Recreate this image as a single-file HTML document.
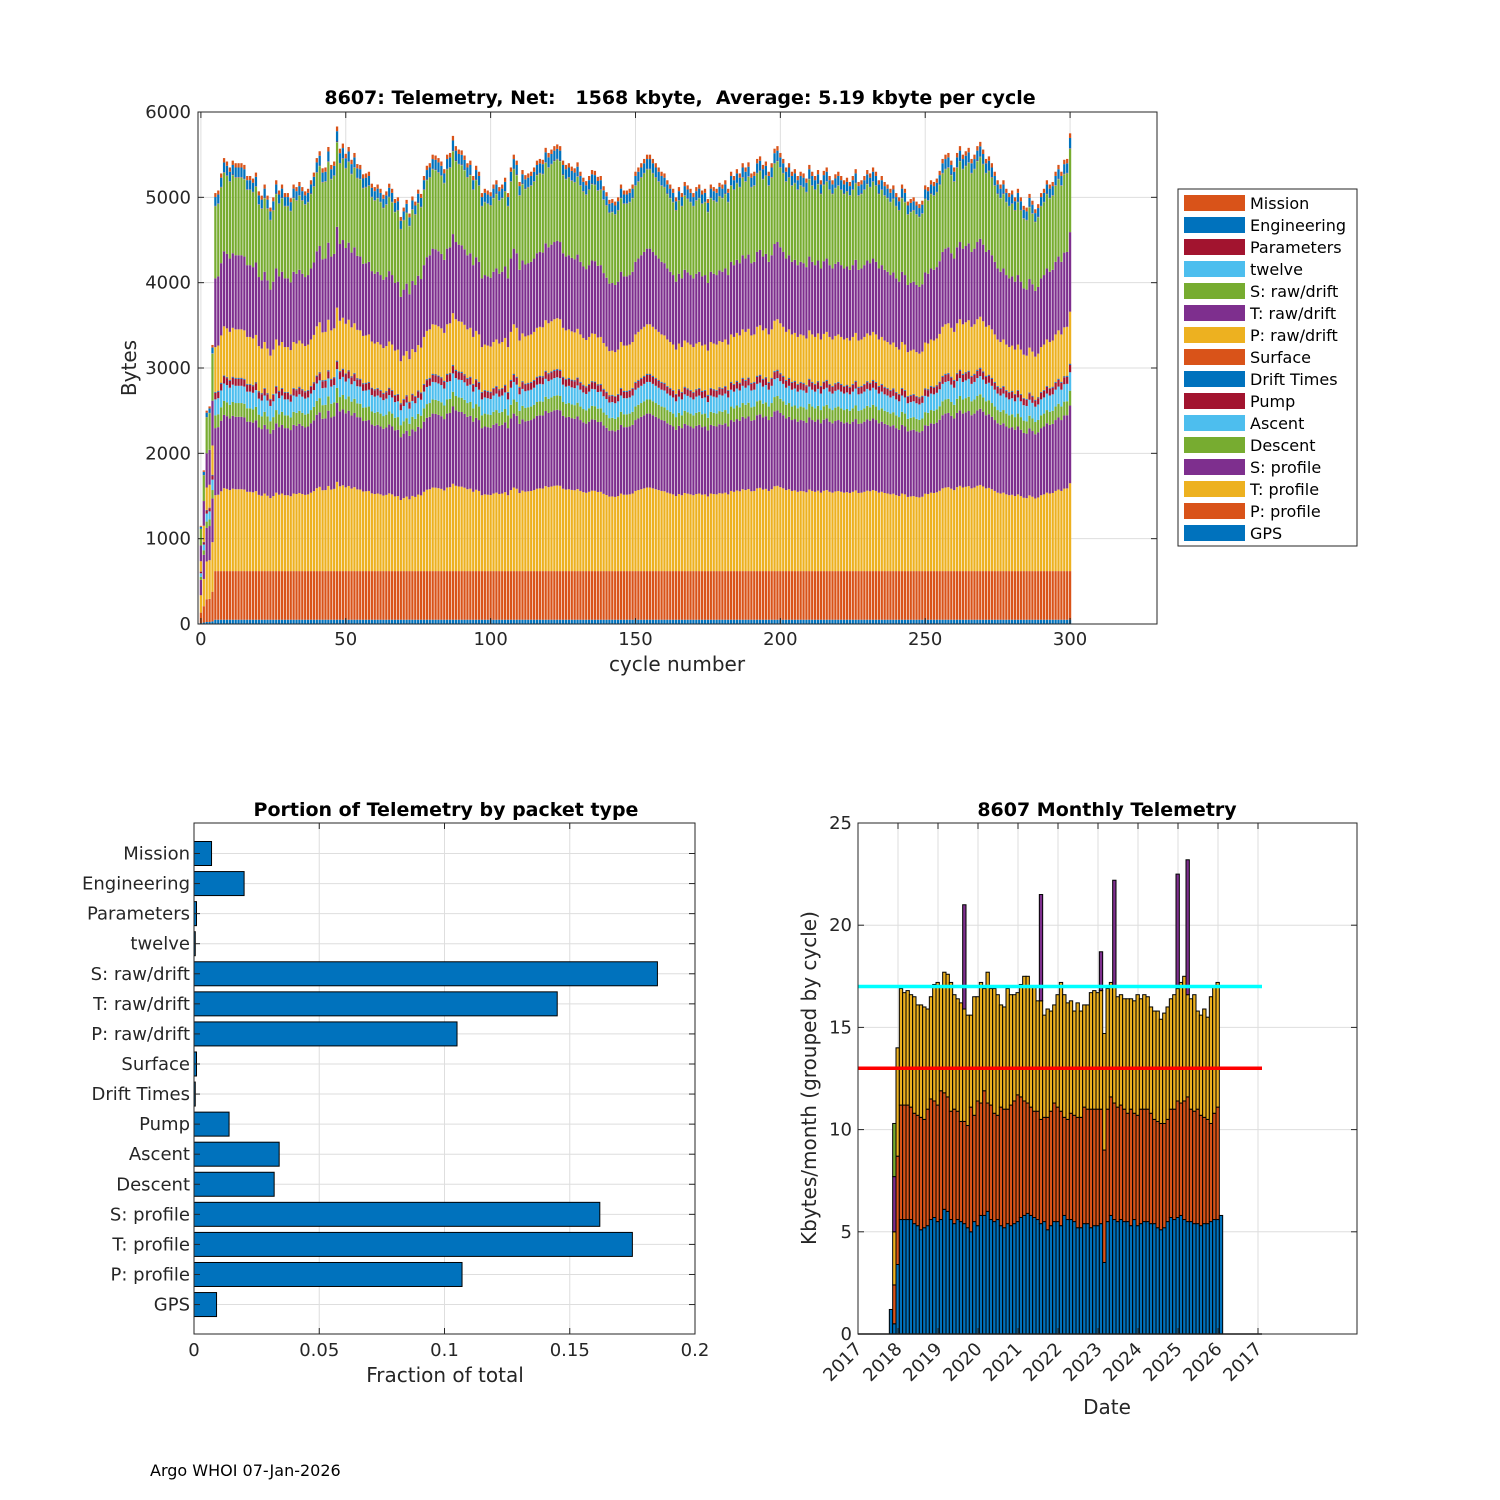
<!DOCTYPE html>
<html><head><meta charset="utf-8">
<style>
html,body{margin:0;padding:0;background:#fff;}
svg{display:block;font-family:"DejaVu Sans","Liberation Sans",sans-serif;}
</style></head>
<body>
<svg id="fig" width="1500" height="1500" viewBox="0 0 1500 1500" xmlns="http://www.w3.org/2000/svg">
<rect width="1500" height="1500" fill="#fff"/>
<g id="top"></g>
<g id="bl"></g>
<g id="br"></g>
<text x="150" y="1476" font-size="16" fill="#000">Argo WHOI 07-Jan-2026</text>
</svg>
<script>
// ---------- Top chart data ----------
const cycleTotals = [
1150,1800,2500,2550,3270,5050,5080,5280,5460,5420,
5350,5430,5400,5400,5400,5380,5250,5250,5220,5290,
5070,5020,5150,5020,4880,5000,5200,5080,5150,5050,
5050,4990,5150,5120,5180,5120,5070,5100,5200,5290,
5460,5540,5340,5350,5590,5380,5420,5830,5570,5630,
5510,5590,5440,5520,5390,5380,5270,5280,5300,5160,
5120,5150,5100,5030,5070,5160,5100,4980,5000,4770,
4880,4970,4810,5010,4950,5090,5040,5250,5370,5400,
5500,5490,5460,5420,5330,5500,5520,5720,5600,5560,
5550,5490,5400,5430,5250,5370,5300,5050,5100,5080,
5060,5150,5200,5120,5150,5230,5050,5350,5500,5430,
5180,5320,5260,5280,5300,5350,5430,5450,5440,5580,
5520,5560,5600,5620,5600,5430,5380,5400,5360,5340,
5410,5300,5230,5190,5250,5320,5310,5240,5250,5130,
5060,4970,4980,4950,5000,5150,5080,5080,5100,5150,
5300,5350,5400,5450,5500,5500,5450,5400,5350,5300,
5280,5200,5150,5100,5000,5120,5050,5180,5140,5100,
5050,5120,5150,5080,5100,4980,5150,5120,5100,5170,
5150,5200,5100,5300,5250,5330,5280,5400,5350,5410,
5280,5300,5450,5480,5380,5420,5300,5400,5570,5600,
5520,5450,5350,5400,5300,5330,5250,5300,5280,5220,
5380,5300,5250,5320,5200,5310,5350,5250,5200,5270,
5300,5250,5200,5230,5180,5250,5330,5180,5200,5250,
5320,5280,5350,5300,5200,5250,5180,5150,5100,5140,
5050,5000,5150,5100,4950,4980,5000,4950,4920,4960,
5140,5120,5200,5180,5220,5310,5450,5500,5520,5430,
5350,5520,5600,5500,5540,5580,5450,5500,5600,5650,
5560,5450,5480,5400,5300,5200,5150,5200,5100,5050,
5080,5000,5100,5000,4900,4880,5040,4960,4860,4920,
5050,5100,5200,5150,5180,5300,5380,5300,5440,5450,
5750];
const packetNames = ["GPS","P: profile","T: profile","S: profile","Descent","Ascent","Pump","Drift Times","Surface","P: raw/drift","T: raw/drift","S: raw/drift","twelve","Parameters","Engineering","Mission"];
const packetBase  = [50,570,950,840,160,200,80,10,5,560,860,900,3,5,110,50];
const packetColors = ["#0072BD","#D95319","#EDB120","#7E2F8E","#77AC30","#4DBEEE","#A2142F","#0072BD","#D95319","#EDB120","#7E2F8E","#77AC30","#4DBEEE","#A2142F","#0072BD","#D95319"];
const topYTicks = [0,1000,2000,3000,4000,5000,6000];
const topXTicks = [0,50,100,150,200,250,300];

// ---------- Bottom-left data ----------
const fracLabels = ["Mission","Engineering","Parameters","twelve","S: raw/drift","T: raw/drift","P: raw/drift","Surface","Drift Times","Pump","Ascent","Descent","S: profile","T: profile","P: profile","GPS"];
const fracValues = [0.007,0.020,0.001,0.0005,0.185,0.145,0.105,0.001,0.0005,0.014,0.034,0.032,0.162,0.175,0.107,0.009];
const fracTicks = [0,0.05,0.1,0.15,0.2];
const fracTickLabels = ["0","0.05","0.1","0.15","0.2"];

// ---------- Bottom-right data (months starting Nov 2017) ----------
const monthBlue = [1.2,0.5,
3.4,5.6,5.6,5.6,5.6,5.4,5.3,5.1,5.2,5.3,5.6,5.7,
5.5,5.6,6.1,6.0,5.6,5.4,5.6,5.5,5.4,5.2,5.0,5.5,
5.3,5.8,5.8,6.0,5.6,5.5,5.6,5.3,5.2,5.4,5.3,5.4,
5.5,5.7,5.8,5.9,5.8,5.7,5.6,5.4,5.5,5.1,5.3,5.5,
5.5,5.3,5.8,5.6,5.6,5.5,5.2,5.2,5.4,5.4,5.2,5.3,
5.3,5.4,3.5,5.5,5.8,5.6,5.5,5.6,5.5,5.5,5.3,5.6,
5.3,5.4,5.5,5.5,5.4,5.4,5.2,5.1,5.2,5.5,5.7,5.6,
5.7,5.8,5.6,5.5,5.5,5.4,5.4,5.3,5.4,5.4,5.5,5.6,
5.6,5.8];
const monthOrange = [0,2.4,
8.7,11.2,11.2,11.2,11.1,10.8,10.7,10.6,10.5,11.0,11.5,11.4,
11.2,11.9,11.8,11.6,10.9,11.0,10.9,10.4,10.4,10.2,11.1,10.7,
11.4,11.3,11.9,11.3,11.2,10.8,10.7,11.1,11.0,11.0,11.2,11.4,
11.7,11.6,11.4,11.3,11.1,10.9,10.9,10.5,10.6,10.6,10.9,11.3,
11.1,10.9,10.6,10.5,10.8,10.7,10.6,10.6,11.1,11.0,11.0,11.0,
11.0,11.0,9.0,11.0,11.6,11.3,11.1,11.2,11.0,10.8,11.0,10.8,
10.7,11.0,11.0,11.0,10.8,10.5,10.4,10.3,10.3,10.5,11.0,11.0,
11.4,11.3,11.4,11.6,11.0,10.9,11.0,10.7,10.6,10.5,10.3,10.8,
11.1,0];
const monthYellow = [0,5.0,
14.0,16.9,16.7,16.8,16.6,16.5,16.1,16.1,16.0,15.9,16.5,17.1,
17.2,17.0,17.7,17.6,17.2,16.6,16.4,16.2,15.9,15.6,15.6,16.5,
16.5,17.2,16.9,17.7,16.9,16.9,16.6,16.1,16.0,16.9,16.6,16.6,
16.7,17.1,17.5,17.5,17.0,17.0,16.3,16.3,15.6,15.9,15.8,16.1,
16.6,17.2,16.6,16.2,16.3,15.8,16.2,15.8,16.1,16.1,16.7,16.8,
16.7,16.8,14.7,16.9,17.2,17.0,16.5,16.6,16.4,16.4,16.4,16.3,
16.6,16.4,16.6,16.5,16.0,15.8,15.8,15.4,15.7,16.0,16.4,16.6,
16.9,17.2,17.5,16.6,16.4,16.6,15.8,15.6,15.9,15.5,16.5,17.0,
17.2,0];
const monthPurple = [0,7.7,
0,0,0,0,0,0,0,0,0,0,0,0,
0,0,0,0,0,0,0,0,21.0,0,0,0,
0,0,0,0,0,0,0,0,0,0,0,0,
0,0,0,0,0,0,0,21.5,0,0,0,0,
0,0,0,0,0,0,0,0,0,0,0,0,
0,18.7,0,0,0,22.2,0,0,0,0,0,0,
0,0,0,0,0,0,0,0,0,0,0,0,
22.5,0,0,23.2,0,0,0,0,0,0,0,0,
0,0];
const monthGreen = [0,10.3];
const brYTicks = [0,5,10,15,20,25];
const brXTickLabels = ["2017","2018","2019","2020","2021","2022","2023","2024","2025","2026","2017"];
const limitHigh = 17, limitLow = 13;

const NS="http://www.w3.org/2000/svg";
function mk(parent,tag,attrs,text){const e=document.createElementNS(NS,tag);for(const k in attrs)e.setAttribute(k,attrs[k]);if(text!==undefined)e.textContent=text;parent.appendChild(e);return e;}
const GRID="#dedede", AX="#262626", FS=18;

// ================= TOP CHART =================
(function(){
const g=document.getElementById('top');
const L=198,R=1157,T=112,B=624;
const xs=v=>L+(v+1)*(R-L)/331;
const ys=v=>B-v*(B-T)/6000;
for(const t of topYTicks){const l=mk(g,'line',{x1:L,x2:R,y1:ys(t),y2:ys(t),stroke:GRID,'stroke-width':1});}
for(const t of topXTicks){const l=mk(g,'line',{x1:xs(t),x2:xs(t),y1:T,y2:B,stroke:GRID,'stroke-width':1});}
const baseSum=packetBase.reduce((a,b)=>a+b,0);
const fixed=packetBase[0]+packetBase[1];
const bw=(R-L)/331*0.78;
cycleTotals.forEach((tot,i)=>{
  let y0=0;
  const bar=mk(g,'g',{});
  
  
  packetBase.forEach((b,k)=>{
    let v;
    if(i<5) v=b*tot/baseSum;
    else v=(k<2)?b:b*(tot-fixed)/(baseSum-fixed);
    const yTop=ys(y0+v), yBot=ys(y0);
    const r=mk(bar,'rect',{x:xs(i)-bw/2,y:yTop,width:bw,height:Math.max(0,yBot-yTop),fill:packetColors[k]});
    
    
    y0+=v;
  });
});
mk(g,'rect',{x:L,y:T,width:R-L,height:B-T,fill:'none',stroke:AX,'stroke-width':1});
for(const t of topYTicks){
  mk(g,'line',{x1:L,x2:L+6,y1:ys(t),y2:ys(t),stroke:AX});mk(g,'line',{x1:R,x2:R-6,y1:ys(t),y2:ys(t),stroke:AX});
  const tx=mk(g,'text',{x:L-7,y:ys(t)+6,'font-size':FS,'text-anchor':'end',fill:AX},String(t));
  
}
for(const t of topXTicks){
  mk(g,'line',{x1:xs(t),x2:xs(t),y1:B,y2:B-6,stroke:AX});mk(g,'line',{x1:xs(t),x2:xs(t),y1:T,y2:T+6,stroke:AX});
  const tx=mk(g,'text',{x:xs(t),y:B+21,'font-size':FS,'text-anchor':'middle',fill:AX},String(t));
  
}
let t=mk(g,'text',{x:677,y:671,'font-size':20,'text-anchor':'middle',fill:AX},'cycle number');
t=mk(g,'text',{x:136,y:368,'font-size':20,'text-anchor':'middle',fill:AX,transform:'rotate(-90 136 368)'},'Bytes');
t=mk(g,'text',{x:680,y:104,'font-size':19,'font-weight':'bold','text-anchor':'middle',fill:'#000',style:'white-space:pre'},'8607: Telemetry, Net:   1568 kbyte,  Average: 5.19 kbyte per cycle');
const lg=mk(g,'g',{});
mk(lg,'rect',{x:1178,y:189,width:179,height:357,fill:'#fff',stroke:AX});
for(let j=0;j<16;j++){
  const k=15-j;
  const e=mk(lg,'g',{});
  mk(e,'rect',{x:1184,y:195+j*22,width:61,height:16,fill:packetColors[k]});
  mk(e,'text',{x:1250,y:209+j*22,'font-size':16,fill:'#000'},packetNames[k]);
}
})();

// ================= BOTTOM-LEFT =================
(function(){
const g=document.getElementById('bl');
const L=194,R=695,T=823,B=1334;
const xs=v=>L+v*(R-L)/0.2;
const rowY=i=>853.5+i*30.07;
for(const v of fracTicks){const l=mk(g,'line',{x1:xs(v),x2:xs(v),y1:T,y2:B,stroke:GRID});}
fracLabels.forEach((lab,i)=>{const l=mk(g,'line',{x1:L,x2:R,y1:rowY(i),y2:rowY(i),stroke:GRID});});
fracLabels.forEach((lab,i)=>{
  const r=mk(g,'rect',{x:L,y:rowY(i)-12,width:Math.max(0.5,xs(fracValues[i])-L),height:24,fill:'#0072BD',stroke:'#000','stroke-width':1});
  
  
  mk(g,'line',{x1:L,x2:L+6,y1:rowY(i),y2:rowY(i),stroke:AX});mk(g,'line',{x1:R,x2:R-6,y1:rowY(i),y2:rowY(i),stroke:AX});
  const tx=mk(g,'text',{x:L-4,y:rowY(i)+6,'font-size':FS,'text-anchor':'end',fill:AX},lab);
  
});
mk(g,'rect',{x:L,y:T,width:R-L,height:B-T,fill:'none',stroke:AX});
fracTicks.forEach((v,i)=>{
  mk(g,'line',{x1:xs(v),x2:xs(v),y1:B,y2:B-6,stroke:AX});mk(g,'line',{x1:xs(v),x2:xs(v),y1:T,y2:T+6,stroke:AX});
  const tx=mk(g,'text',{x:xs(v),y:B+22,'font-size':FS,'text-anchor':'middle',fill:AX},fracTickLabels[i]);
  
});
let t=mk(g,'text',{x:445,y:1382,'font-size':20,'text-anchor':'middle',fill:AX},'Fraction of total');
t=mk(g,'text',{x:446,y:816,'font-size':19,'font-weight':'bold','text-anchor':'middle',fill:'#000'},'Portion of Telemetry by packet type');
})();

// ================= BOTTOM-RIGHT =================
(function(){
const g=document.getElementById('br');
const L=858,R=1357,T=823,B=1334;
const yrW=40;
const xs=m=>L+(10+m)/12*yrW-2;
const ys=v=>B-v*(B-T)/25;
for(const v of brYTicks){const l=mk(g,'line',{x1:L,x2:R,y1:ys(v),y2:ys(v),stroke:GRID});}
brXTickLabels.forEach((lab,i)=>{const x=L+i*yrW;const l=mk(g,'line',{x1:x,x2:x,y1:T,y2:B,stroke:GRID});});
const bw=yrW/12;
const layers=[[monthBlue,'#0072BD'],[monthOrange,'#D95319'],[monthYellow,'#EDB120'],[monthPurple,'#7E2F8E'],[monthGreen,'#77AC30']];
monthBlue.forEach((_,m)=>{
  let prev=0;
  const bar=mk(g,'g',{});
  
  
  for(const [arr,col] of layers){
    const v=arr[m]||0;
    if(v>prev){
      const r=mk(bar,'rect',{x:xs(m),y:ys(v),width:bw,height:ys(prev)-ys(v),fill:col,stroke:'#000','stroke-width':1});
      
      
      prev=v;
    }
  }
});
let l=mk(g,'line',{x1:L,x2:1262,y1:ys(limitHigh),y2:ys(limitHigh),stroke:'#00FFFF','stroke-width':3.5});
l=mk(g,'line',{x1:L,x2:1262,y1:ys(limitLow),y2:ys(limitLow),stroke:'#FF0000','stroke-width':3.5});
mk(g,'line',{x1:L,x2:1262,y1:B,y2:B,stroke:'#000','stroke-width':1.5});
mk(g,'rect',{x:L,y:T,width:R-L,height:B-T,fill:'none',stroke:AX});
for(const v of brYTicks){
  mk(g,'line',{x1:L,x2:L+6,y1:ys(v),y2:ys(v),stroke:AX});mk(g,'line',{x1:R,x2:R-6,y1:ys(v),y2:ys(v),stroke:AX});
  const tx=mk(g,'text',{x:L-6,y:ys(v)+6,'font-size':FS,'text-anchor':'end',fill:AX},String(v));
  
}
brXTickLabels.forEach((lab,i)=>{
  const x=L+i*yrW;
  mk(g,'line',{x1:x,x2:x,y1:B,y2:B-6,stroke:AX});mk(g,'line',{x1:x,x2:x,y1:T,y2:T+6,stroke:AX});
  const tx=mk(g,'text',{x:x+5,y:B+16,'font-size':FS,'text-anchor':'end',fill:AX,transform:`rotate(-45 ${x+5} ${B+16})`},lab);
  
});
let t=mk(g,'text',{x:1107,y:1414,'font-size':20,'text-anchor':'middle',fill:AX},'Date');
t=mk(g,'text',{x:816,y:1078,'font-size':20,'text-anchor':'middle',fill:AX,transform:'rotate(-90 816 1078)'},'Kbytes/month (grouped by cycle)');
t=mk(g,'text',{x:1107,y:816,'font-size':19,'font-weight':'bold','text-anchor':'middle',fill:'#000'},'8607 Monthly Telemetry');
})();
</script>
</body></html>
